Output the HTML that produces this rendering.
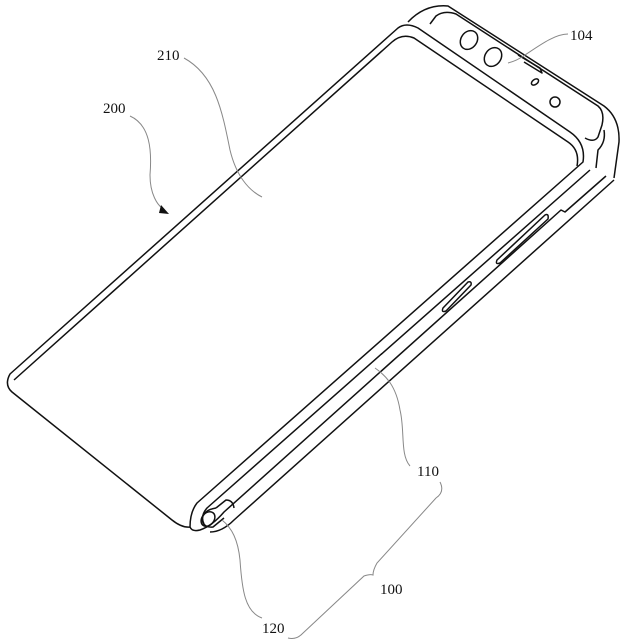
<!DOCTYPE html>
<html><head><meta charset="utf-8"><style>
html,body{margin:0;padding:0;background:#fff;}
svg{display:block}
text{font-family:"Liberation Serif",serif;font-size:15px;fill:#111}
</style></head><body>
<svg width="625" height="643" viewBox="0 0 625 643" xmlns="http://www.w3.org/2000/svg">
<g fill="none" stroke="#111" stroke-width="1.5" stroke-linejoin="round">
<!-- housing top right -->
<path d="M408,22 Q425,4 448,6 L604,106 Q620,118 619,142 L614,178"/>
<path d="M604,130 Q606,142 598,150 L596,168"/>
<!-- camera module -->
<path d="M430,24 L436,16 Q444,10 456,14 L598,106 Q605,112 602,125 L598,137 Q594,143 585,138"/>
<ellipse cx="469" cy="40" rx="8" ry="10" transform="rotate(35 469 40)"/>
<ellipse cx="493" cy="57" rx="8" ry="10" transform="rotate(35 493 57)"/>
<ellipse cx="535" cy="82" rx="2.5" ry="4" transform="rotate(55 535 82)"/>
<circle cx="555" cy="102" r="5"/>
<path d="M518,55 L540,68 L542,73 L524,62"/>
<!-- screen outer -->
<path d="M398,28 Q406,22 418,28 L570,132 Q586,143 583,162 L197,503 Q190,512 190,527 Q182,528 172,520 L12,392 Q4,385 10,374 Z"/>
<!-- screen inner double line -->
<path d="M14,380 L392,42 Q402,33 414,38 L568,142 Q580,150 577,166"/>
<!-- rail lines -->
<path d="M590,170 L207,508 Q200,516 204,524"/>
<path d="M606,176 L565,212 L561,210 L224,512 Q212,526 200,530 Q192,532 190,527"/>
<path d="M614,180 L234,520 Q222,532 210,532"/>
<!-- roller end -->
<path d="M216,508 Q203,510 202,520 Q204,528 213,527 L224,518"/>
<ellipse cx="208" cy="519" rx="6" ry="8" transform="rotate(40 208 519)"/>
<path d="M216,508 L226,500 Q233,500 234,508"/>
<!-- slots -->
<path d="M497,260 L545,215 Q549,213 548,219 L500,263 Q495,265 497,260 Z"/>
<path d="M443,308 L468,282 Q472,281 471,285 L446,311 Q441,313 443,308 Z"/>
</g>
<g fill="none" stroke="#888" stroke-width="1">
<path d="M184,58 C215,75 222,110 230,150 C236,175 248,190 262,197"/>
<path d="M130,116 C150,125 152,150 150,175 C150,195 158,205 162,208"/>
<path d="M568,34 C555,34 540,45 525,55 C518,60 512,62 508,63"/>
<path d="M410,466 C400,455 405,430 400,410 C396,385 385,375 375,368"/>
<path d="M262,618 C245,612 242,590 240,560 C238,540 232,528 222,520"/>
<path d="M440,482 Q445,492 436,498 L377,563 Q373,570 373,575 Q370,574 364,576 L302,634 Q296,640 288,638"/>
</g>
<path d="M161,205 L169,214 L159,213 Z" fill="#111"/>
<text x="157" y="60">210</text>
<text x="103" y="113">200</text>
<text x="570" y="40">104</text>
<text x="417" y="476">110</text>
<text x="380" y="594">100</text>
<text x="262" y="633">120</text>
</svg>
</body></html>
